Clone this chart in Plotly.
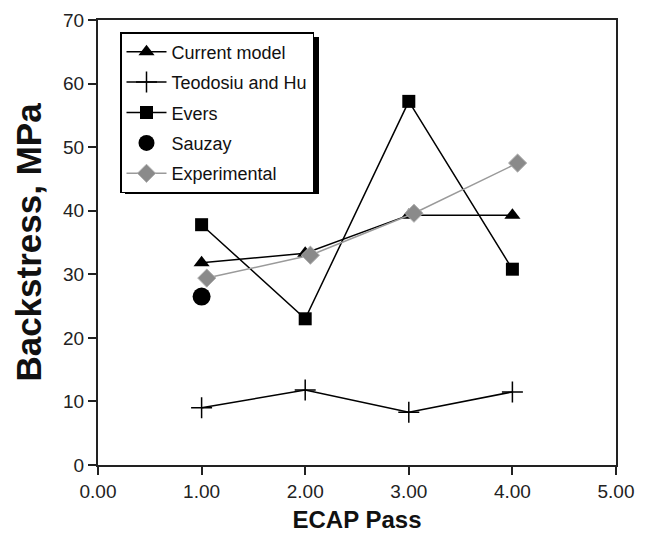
import plotly.graph_objects as go

passes = [1, 2, 3, 4]
exp_passes = [1.05, 2.05, 3.05, 4.05]
current_model = [31.8, 33.3, 39.3, 39.3]
teodosiu_hu = [9.0, 11.8, 8.3, 11.5]
evers = [37.8, 23.0, 57.2, 30.8]
sauzay_x = [1]
sauzay = [26.5]
experimental = [29.4, 33.0, 39.6, 47.5]

x_ticks = [0, 1, 2, 3, 4, 5]
y_ticks = [0, 10, 20, 30, 40, 50, 60, 70]

FONT = "Liberation Sans, Arial, sans-serif"

fig = go.Figure()
fig.add_trace(go.Scatter(x=passes, y=current_model, name="Current model", mode="lines+markers",
                         line=dict(color="black", width=1.5),
                         marker=dict(symbol="triangle-up", size=14, color="black"),
                         legendgroup="a"))
fig.add_trace(go.Scatter(x=passes, y=teodosiu_hu, name="Teodosiu and Hu", mode="lines+markers",
                         line=dict(color="black", width=1.5),
                         marker=dict(symbol="cross-thin", size=15, line=dict(color="black", width=1.5)),
                         legendgroup="b"))
fig.add_trace(go.Scatter(x=passes, y=evers, name="Evers", mode="lines+markers",
                         line=dict(color="black", width=1.5),
                         marker=dict(symbol="square", size=13, color="black"),
                         legendgroup="c"))
fig.add_trace(go.Scatter(x=sauzay_x, y=sauzay, name="Sauzay", mode="markers",
                         marker=dict(symbol="circle", size=18, color="black"),
                         legendgroup="d"))
fig.add_trace(go.Scatter(x=exp_passes, y=experimental, name="Experimental", mode="lines+markers",
                         line=dict(color="#9a9a9a", width=1.5),
                         marker=dict(symbol="diamond", size=14, color="#8a8a8a",
                                     line=dict(color="#b0b0b0", width=1)),
                         legendgroup="e"))

# legend shadow
def px2x(p):
    return (p - 98) / 518.0

def py2y(p):
    return (465 - p) / 445.0

fig.add_shape(type="rect", xref="paper", yref="paper",
              x0=px2x(125), x1=px2x(319), y0=py2y(194), y1=py2y(37),
              fillcolor="black", line=dict(width=0), layer="above")

fig.update_layout(
    width=650, height=534,
    margin=dict(l=98, r=34, t=20, b=69, autoexpand=False),
    paper_bgcolor="white", plot_bgcolor="white",
    font=dict(family=FONT, color="#222", size=15),
    showlegend=True,
    legend=dict(x=px2x(120), y=py2y(32), xanchor="left", yanchor="top",
                bgcolor="white", bordercolor="black", borderwidth=1.5,
                font=dict(size=18, family=FONT, color="#111"),
                tracegroupgap=4, itemwidth=40),
    xaxis=dict(range=[0, 5], tickvals=x_ticks, ticktext=[f"{v:.2f}" for v in x_ticks],
               automargin=False,
               showgrid=False, zeroline=False, showline=True, linecolor="#222", linewidth=2,
               mirror=True, ticks="outside", ticklen=8, tickwidth=1.5, tickcolor="#222",
               tickfont=dict(size=19, family=FONT, color="#222"),
               title=dict(text="<b>ECAP Pass</b>", font=dict(size=24, family=FONT, color="#111"),
                          standoff=10)),
    yaxis=dict(range=[0, 70], tickvals=y_ticks,
               automargin=False,
               showgrid=False, zeroline=False, showline=True, linecolor="#222", linewidth=2,
               mirror=True, ticks="outside", ticklen=8, tickwidth=1.5, tickcolor="#222",
               tickfont=dict(size=19, family=FONT, color="#222"),
               title=dict(text="<b>Backstress, MPa</b>", font=dict(size=35, family=FONT, color="#111"),
                          standoff=11)),
)

fig.write_html("out.html")
